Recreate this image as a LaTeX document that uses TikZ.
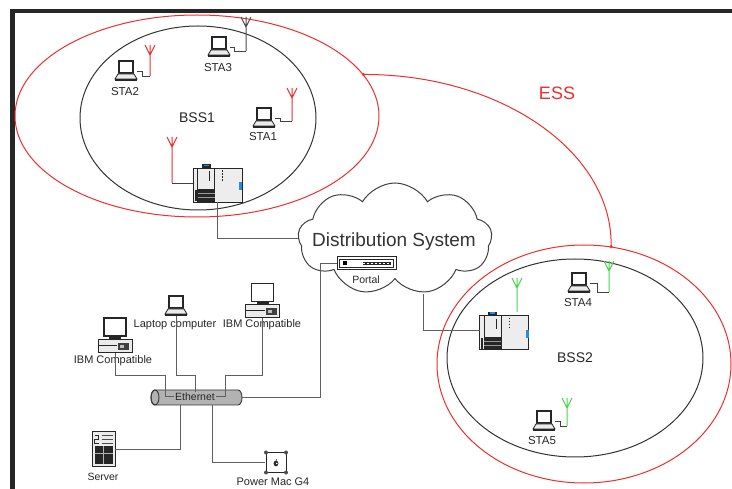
\documentclass[tikz,border=0pt]{standalone}
\usepackage{fontspec}
\setmainfont{Liberation Sans}
\usetikzlibrary{shapes.geometric,shapes.symbols}
\definecolor{essred}{RGB}{238,45,45}
\definecolor{antgreen}{RGB}{70,215,70}
\definecolor{wiregray}{RGB}{95,95,95}
\definecolor{apblue}{RGB}{40,140,215}
\tikzset{
  wire/.style={draw=wiregray, line width=1pt},
  cable/.style={draw=black!75, line width=0.8pt},
  dev/.style={draw=none, inner sep=0pt, outer sep=0pt},
  lapnode/.style={dev, minimum width=22pt, minimum height=21pt},
  lbl/.style={inner sep=0pt, font=\fontsize{11}{12}\selectfont, text=black!85},
  stalbl/.style={lbl, font=\fontsize{11.5}{13}\selectfont},
  bsslbl/.style={inner sep=0pt, font=\fontsize{14}{16}\selectfont, text=black!85},
  area/.style={ellipse, inner sep=0pt, draw, line width=1pt},
  % antenna: mast rising #1 from the pic origin, three prongs on top
  pics/antenna/.style={code={
    \draw[line width=1pt] (0,0) -- (0,-#1)
      (-5,-#1) -- (0,-#1+10) -- (5,-#1);
  }},
  pics/laptop/.style={code={
    \fill[black!85] (-8,-11) rectangle (8,3);
    \fill[white] (-6,-9) rectangle (6,1);
    \filldraw[fill=black!8, draw=black!85, line width=0.8pt]
      (-8,3) -- (8,3) -- (11,8) -- (-11,8) -- cycle;
    \fill[black!85] (-11,8) rectangle (11,10.5);
  }},
  pics/desktop/.style={code={
    \filldraw[fill=black!8, draw=black!85, line width=0.8pt] (-17,4) rectangle (17,17);
    \draw[black!85, line width=0.6pt] (-17,10) -- (2,10);
    \fill[black!75] (3,8) rectangle (14,15);
    \fill[black!25] (5,10) rectangle (9,13);
    \fill[black!85] (-6,1) rectangle (6,4);
    \filldraw[fill=white, draw=black!85, line width=1.8pt] (-11,-17) rectangle (11,1);
  }},
  pics/server/.style={code={
    \filldraw[fill=black!8, draw=black!85, line width=1pt] (-11.5,-17.5) rectangle (11.5,17.5);
    \draw[black!70, line width=0.6pt] (-2,-14) -- (9,-14) (-2,-10) -- (9,-10) (-2,-6) -- (9,-6);
    \draw[black!85, line width=1.2pt] (-9,-14) -- (-5,-14) -- (-5,-10) -- (-9,-10) -- (-9,-6) -- (-5,-6);
    \fill[black!85] (-9,-3) rectangle (9,15);
    \draw[black!30, line width=0.6pt] (0,-3) -- (0,15) (-9,4) -- (9,4);
  }},
  pics/powermac/.style={code={
    \draw[black!85, line width=0.8pt] (-10,-10) rectangle (10,10);
    \fill[black!70] (-10,-10) circle (2) (10,-10) circle (2) (-10,10) circle (2) (10,10) circle (2);
    \fill[black!85] (0,1) ellipse (2.4 and 2.8);
    \fill[white] (0.8,1) circle (0.9);
    \draw[black!85, line width=0.6pt] (0,-1.8) -- (0.8,-3.2);
  }},
  pics/apdevice/.style={code={
    \filldraw[fill=black!7, draw=black!85, line width=1pt] (-24.5,-15) rectangle (24.5,19);
    \fill[black!85] (-16,-19) rectangle (-7,-15);
    \fill[apblue] (-14,-18.5) rectangle (-9,-17);
    \draw[black!85, line width=0.8pt] (-20,-15) -- (-20,19) (-3,-15) -- (-3,19);
    \fill[black!85] (-20,6) rectangle (-3,19);
    \draw[black!40, line width=0.5pt] (-20,10) -- (-3,10) (-20,14) -- (-3,14);
    \fill[black!85] (-23,7) rectangle (-21,18);
    \draw[black!85, line width=0.8pt] (-8,-12) -- (-8,-2);
    \draw[black!85, line width=1pt, dash pattern=on 1.5pt off 1.5pt] (5,-13) -- (5,-1);
    \fill[apblue] (21.5,-1) rectangle (24.5,7);
  }},
  pics/portal/.style={code={
    \filldraw[fill=white, draw=black!85, line width=1pt] (-29.5,-6.5) rectangle (29.5,6.5);
    \draw[black!85, line width=0.6pt] (-27,-4) rectangle (27,4);
    \fill[black] (-24,-2) rectangle (-20,2);
    \fill[black!85] (-4,-1.5) rectangle (24,1.5);
    \draw[white, line width=0.6pt, dash pattern=on 2.2pt off 1.8pt] (-4,0) -- (24,0);
  }},
}
\begin{document}
\begin{tikzpicture}[x=1pt, y=-1pt]
\useasboundingbox (0,0) rectangle (732,489);

% page frame
\draw[line width=4.5pt, black!85, line join=miter] (12.5,489) -- (12.5,11) -- (732,11);

% service areas
\node[area, draw=essred, minimum width=364pt, minimum height=202pt] (ess1) at (197,116) {};
\node[area, draw=black!80, minimum width=236pt, minimum height=184pt] (bss1) at (198,118) {};
\node[area, draw=essred, minimum width=294pt, minimum height=238pt] (ess2) at (584,364) {};
\node[area, draw=black!80, minimum width=256pt, minimum height=198pt] (bss2) at (575,358) {};

\draw[essred, line width=1pt] (ess1.14) .. controls (501,74) and (613,152) .. (ess2.77);
\fill[essred] (ess1.14) circle (1.6) (ess2.77) circle (1.6);

\node[inner sep=0pt, font=\fontsize{18}{20}\selectfont, text=essred] (esslbl) at (557,93) {ESS};
\node[bsslbl] (bss1lbl) at (197,118) {BSS1};
\node[bsslbl] (bss2lbl) at (575,358) {BSS2};

% distribution system
\node[cloud, draw=black!75, line width=1pt, cloud puffs=9, cloud puff arc=120,
      cloud ignores aspect, minimum width=194pt, minimum height=112pt, inner sep=0pt]
      (ds) at (395,239) {};
\node[inner sep=0pt, font=\fontsize{19}{21}\selectfont, text=black!80] (dstext) at (394,242) {Distribution System};

% BSS1 stations
\node[lapnode] (sta2) at (126,71) {};
\node[lapnode] (sta3) at (219,47) {};
\node[lapnode] (sta1) at (264,118) {};
\pic at (sta2) {laptop};
\pic at (sta3) {laptop};
\pic at (sta1) {laptop};
\node[stalbl] (sta2l) at (125,92) {STA2};
\node[stalbl] (sta3l) at (218,68) {STA3};
\node[stalbl] (sta1l) at (263,137) {STA1};

\coordinate (ant2) at (150,76);
\coordinate (ant3) at (246,51);
\coordinate (ant1) at (292,121);
\coordinate (antap1) at (172,183);
\draw[cable] (sta2.east) -- ++(5,0) |- (ant2);
\draw[cable] (sta3.east) -- ++(4,0) |- (ant3);
\draw[cable] (sta1.east) -- ++(5,0) |- (ant1);
\pic[essred] at (ant2) {antenna=31};
\pic[black!70] at (ant3) {antenna=34};
\pic[essred] at (ant1) {antenna=33};

% BSS1 access point
\node[dev, minimum width=49pt, minimum height=38pt] (ap1) at (217.5,183.5) {};
\draw[cable] (antap1) -- (antap1 -| ap1.west);
\pic at (ap1) {apdevice};
\pic[essred] at (antap1) {antenna=46};

% BSS2 access point and stations
\node[dev, minimum width=49pt, minimum height=38pt] (ap2) at (504,331) {};
\pic at (ap2) {apdevice};
\coordinate (antap2) at (517,312);
\pic[antgreen] at (antap2) {antenna=34};

\node[lapnode] (sta4) at (579,283) {};
\node[lapnode] (sta5) at (544,421) {};
\pic at (sta4) {laptop};
\pic at (sta5) {laptop};
\node[stalbl] (sta4l) at (578,303) {STA4};
\node[stalbl] (sta5l) at (542,441) {STA5};
\coordinate (ant4) at (609,292);
\coordinate (ant5) at (567,426);
\draw[cable] (sta4.east) -- ++(7,0) |- (ant4);
\draw[cable] (sta5.east) -- ++(5,0) |- (ant5);
\pic[antgreen] at (ant4) {antenna=31};
\pic[antgreen] at (ant5) {antenna=28};

% links to the distribution system
\draw[wire] (ap1.south) |- (ds.west);
\coordinate (dsb) at (423,294);
\draw[wire] (dsb) |- (ap2.west);

% portal
\node[dev, minimum width=59pt, minimum height=13pt] (portal) at (366.5,263.5) {};
\pic at (portal) {portal};
\node[lbl, font=\fontsize{10.5}{12}\selectfont] (portall) at (366,280) {Portal};

% wired LAN
\node[dev, minimum width=91pt, minimum height=15pt] (eth) at (196.5,397.5) {};
\filldraw[fill=black!30, draw=black!80, line width=0.9pt]
  (155,390) -- (238,390) arc (-90:90:4 and 7.5) -- (155,405) arc (90:270:4 and 7.5) -- cycle;
\draw[black!80, line width=0.9pt] (155,397.5) ellipse (4 and 7.5);
\node[lbl, font=\fontsize{10.5}{12}\selectfont, inner sep=1pt] (ethtxt) at (195,397) {Ethernet};

\node[dev, minimum width=34pt, minimum height=36pt] (pc1) at (115,335) {};
\node[lapnode] (lap) at (176,306) {};
\node[dev, minimum width=34pt, minimum height=36pt] (pc2) at (262.5,300.5) {};
\pic at (pc1) {desktop};
\pic at (lap) {laptop};
\pic at (pc2) {desktop};
\node[lbl] (pc1l) at (113,361) {IBM Compatible};
\node[lbl] (lapl) at (175,325) {Laptop computer};
\node[lbl] (pc2l) at (262,325) {IBM Compatible};

\node[dev, minimum width=23pt, minimum height=35pt] (srv) at (103.5,449.5) {};
\node[dev, minimum width=22pt, minimum height=21pt] (pm) at (276,462.5) {};
\pic at (srv) {server};
\pic at (pm) {powermac};
\node[lbl, font=\fontsize{10.5}{12}\selectfont] (srvl) at (103,477) {Server};
\node[lbl] (pml) at (273,482) {Power Mac G4};

\coordinate (b1) at (165,376);
\coordinate (b2) at (195,376);
\coordinate (b3) at (225,376);
\coordinate (b4) at (180,405);
\coordinate (b5) at (212,405);
\coordinate (b6) at (320,397.5);
\draw[wire] (pc1.south) |- (b1) |- (ethtxt.west);
\draw[wire] (lap.south) |- (b2) -- (b2 |- ethtxt.north);
\draw[wire] (pc2.south) |- (b3) |- (ethtxt.east);
\draw[wire] (srv.east) -| (b4);
\draw[wire] (pm.west) -| (b5);
\draw[wire] (portal.west) -| (b6) -- (eth.east);
\end{tikzpicture}
\end{document}
